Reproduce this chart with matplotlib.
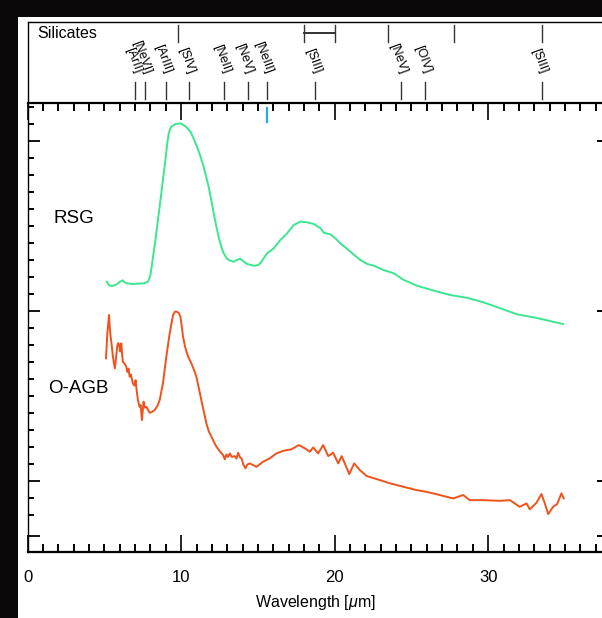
import numpy as np
import matplotlib
matplotlib.use("Agg")
import matplotlib.pyplot as plt
from matplotlib.patches import Rectangle
from matplotlib.ticker import MultipleLocator, FixedLocator

plt.rcParams['font.family'] = ['Liberation Sans', 'DejaVu Sans']
plt.rcParams['mathtext.fontset'] = 'custom'
plt.rcParams['mathtext.it'] = 'Liberation Sans:italic'
plt.rcParams['mathtext.rm'] = 'Liberation Sans'

# RSG spectrum: (wavelength in micron, offset flux)
rsg = np.array([
    (5.15, 1.171), (5.3, 1.150), (5.5, 1.145), (5.8, 1.155), (6.0, 1.170),
    (6.19, 1.179), (6.3, 1.168), (6.45, 1.161), (6.9, 1.157), (7.2, 1.160),
    (7.58, 1.161), (7.84, 1.171), (8.0, 1.210), (8.32, 1.416), (8.65, 1.651),
    (8.97, 1.886), (9.08, 1.975), (9.19, 2.044), (9.34, 2.082), (9.62, 2.098),
    (9.95, 2.102), (10.27, 2.086), (10.6, 2.053), (10.8, 2.015), (11.03, 1.965),
    (11.25, 1.910), (11.46, 1.847), (11.62, 1.790), (11.79, 1.729),
    (11.95, 1.655), (12.12, 1.573), (12.28, 1.500), (12.44, 1.435),
    (12.6, 1.380), (12.77, 1.338), (12.95, 1.310), (13.1, 1.298),
    (13.42, 1.288), (13.65, 1.300), (13.85, 1.306), (14.05, 1.290),
    (14.29, 1.275), (14.72, 1.265), (15.0, 1.268), (15.16, 1.279),
    (15.35, 1.305), (15.6, 1.338), (16.03, 1.367), (16.46, 1.416),
    (16.9, 1.455), (17.33, 1.504), (17.77, 1.524), (18.2, 1.520),
    (18.64, 1.510), (19.07, 1.485), (19.29, 1.459), (19.72, 1.449),
    (20.05, 1.425), (20.37, 1.396), (20.7, 1.372), (21.03, 1.347),
    (21.35, 1.322), (21.68, 1.298), (22.11, 1.275), (22.55, 1.265),
    (23.2, 1.239), (23.85, 1.220), (24.5, 1.181), (25.37, 1.147),
    (26.46, 1.118), (27.54, 1.092), (28.63, 1.076), (29.71, 1.049),
    (30.8, 1.014), (31.88, 0.979), (32.97, 0.961), (34.05, 0.939),
    (34.87, 0.922),
])
rsg_wl, rsg_flux = rsg[:, 0], rsg[:, 1]

# O-rich AGB spectrum
agb = np.array([
    (5.1, 0.720), (5.19, 0.867), (5.3, 0.975), (5.35, 0.900), (5.4, 0.847),
    (5.47, 0.800), (5.53, 0.749), (5.6, 0.700), (5.68, 0.661), (5.75, 0.720),
    (5.83, 0.788), (5.9, 0.810), (5.96, 0.798), (6.02, 0.760), (6.1, 0.808),
    (6.15, 0.745), (6.2, 0.700), (6.3, 0.690), (6.42, 0.671), (6.5, 0.640),
    (6.57, 0.660), (6.64, 0.612), (6.72, 0.625), (6.85, 0.573), (6.95, 0.560),
    (7.03, 0.592), (7.1, 0.530), (7.18, 0.475), (7.29, 0.435), (7.36, 0.445),
    (7.44, 0.357), (7.55, 0.465), (7.62, 0.430), (7.73, 0.435), (7.94, 0.400),
    (8.1, 0.405), (8.27, 0.416), (8.45, 0.440), (8.6, 0.475), (8.81, 0.573),
    (9.03, 0.729), (9.25, 0.867), (9.47, 0.975), (9.6, 0.995), (9.73, 0.994),
    (9.85, 0.985), (9.95, 0.965), (10.05, 0.900), (10.12, 0.847),
    (10.25, 0.790), (10.38, 0.749), (10.5, 0.720), (10.66, 0.691),
    (10.82, 0.655), (10.99, 0.612), (11.15, 0.545), (11.31, 0.475),
    (11.48, 0.405), (11.64, 0.338), (11.8, 0.290), (11.97, 0.259),
    (12.15, 0.225), (12.3, 0.200), (12.5, 0.175), (12.73, 0.151),
    (12.84, 0.126), (12.95, 0.155), (13.05, 0.140), (13.17, 0.161),
    (13.3, 0.140), (13.49, 0.145), (13.6, 0.130), (13.71, 0.165),
    (13.82, 0.140), (13.93, 0.132), (14.05, 0.095), (14.19, 0.073),
    (14.3, 0.095), (14.47, 0.102), (14.9, 0.082), (15.34, 0.112),
    (15.77, 0.132), (16.21, 0.161), (16.64, 0.176), (17.18, 0.185),
    (17.66, 0.210), (18.05, 0.191), (18.38, 0.171), (18.6, 0.196),
    (18.92, 0.161), (19.25, 0.210), (19.58, 0.145), (19.9, 0.165),
    (20.23, 0.102), (20.45, 0.145), (20.66, 0.102), (20.95, 0.039),
    (21.27, 0.102), (21.64, 0.063), (22.08, 0.028), (22.73, 0.010),
    (23.6, -0.015), (24.46, -0.035), (25.33, -0.055), (25.98, -0.065),
    (26.85, -0.084), (27.72, -0.104), (28.37, -0.084), (28.8, -0.114),
    (29.67, -0.114), (30.76, -0.118), (31.41, -0.114), (32.06, -0.153),
    (32.5, -0.133), (32.71, -0.168), (33.15, -0.129), (33.47, -0.078),
    (33.69, -0.133), (33.91, -0.196), (34.23, -0.153), (34.49, -0.137),
    (34.77, -0.074), (34.92, -0.104),
])
agb_wl, agb_flux = agb[:, 0], agb[:, 1]

# emission lines and silicate features for the top panel
line_names = ['[ArII]', '[NeVI]', '[ArIII]', '[SIV]', '[NeII]', '[NeV]',
              '[NeIII]', '[SIII]', '[NeV]', '[OIV]', '[SIII]']
line_wl = [6.99, 7.65, 8.99, 10.51, 12.81, 14.32, 15.56, 18.71, 24.32,
           25.89, 33.48]
silicate_wl = [9.8, 23.5, 27.8, 33.5]
silicate_band = (18.0, 20.0)

green = '#3ce68e'
orange = '#f0521c'
cyan = '#2aaae2'

W, H = 602, 618
fig = plt.figure(figsize=(W / 100, H / 100), dpi=100, facecolor='#0c0709')
fig.add_artist(Rectangle((18 / W, 0), 1, (H - 17) / H, transform=fig.transFigure,
                         facecolor='white', edgecolor='none', zorder=0))

x0, x1 = 27.7, 603.3
yb, yt, ytop = 552, 103.3, 21.7
ax = fig.add_axes([x0 / W, (H - yb) / H, (x1 - x0) / W, (yb - yt) / H])
ax_top = fig.add_axes([x0 / W, (H - yt) / H, (x1 - x0) / W, (yt - ytop) / H])

xmax = 37.5
ax.plot(rsg_wl, rsg_flux, color=green, lw=1.4)
ax.plot(agb_wl, agb_flux, color=orange, lw=1.4)
ax.plot([15.57, 15.57], [2.11, 2.19], color=cyan, lw=1.6)

ax.text(1.67, 1.545, 'RSG', fontsize=13.5, ha='left', va='center')
ax.text(1.30, 0.542, 'O-AGB', fontsize=13.5, ha='left', va='center')

ax.set_xlim(0, xmax)
ax.set_ylim(-0.419, 2.22)
ax.set_xticks([0, 10, 20, 30])
ax.xaxis.set_minor_locator(MultipleLocator(1))
ax.tick_params(axis='x', which='both', direction='in', top=True, bottom=True,
               labelsize=12, pad=13)
ax.tick_params(axis='x', which='major', length=12, width=1.2)
ax.tick_params(axis='x', which='minor', length=5.8, width=1.4)

ax.set_yticks([-0.325, 0, 1, 2])
ax.yaxis.set_minor_locator(FixedLocator(np.round(np.arange(-0.2, 2.25, 0.1), 2)))
ax.tick_params(axis='y', which='both', direction='in', labelleft=False)
ax.tick_params(axis='y', which='major', length=8.4, width=1.3)
ax.tick_params(axis='y', which='minor', length=4.1, width=1.4)

ax_r = ax.twinx()
ax_r.set_ylim(ax.get_ylim())
ax_r.set_yticks([-0.325, 0, 1, 2])
ax_r.tick_params(axis='y', direction='in', length=4, width=1.4, labelright=False)
for s in ax_r.spines.values():
    s.set_visible(False)

ax.spines['left'].set_linewidth(1.0)
ax.spines['bottom'].set_linewidth(1.6)
ax.spines['top'].set_linewidth(1.6)
ax.spines['right'].set_linewidth(1.0)

ax.set_xlabel(r'Wavelength [$\mu$m]', fontsize=11.5, labelpad=6)

# top panel with line identifications
ax_top.set_xlim(0, xmax)
ax_top.set_ylim(0, 1)
ax_top.set_xticks([])
ax_top.set_yticks([])
ax_top.patch.set_alpha(0)
ax_top.spines['bottom'].set_visible(False)
for s in ['top', 'left', 'right']:
    ax_top.spines[s].set_linewidth(1.0)

ax_top.text(0.016, 0.86, 'Silicates', transform=ax_top.transAxes,
            fontsize=11.5, ha='left', va='center')
for wl in silicate_wl:
    ax_top.plot([wl, wl], [0.748, 0.96], color='#333333', lw=1.0)
ax_top.plot(silicate_band, [0.858, 0.858], color='#222222', lw=1.3)
for wl in silicate_band:
    ax_top.plot([wl, wl], [0.748, 0.96], color='#333333', lw=1.0)

for name, wl in zip(line_names, line_wl):
    ax_top.plot([wl, wl], [0.05, 0.267], color='#333333', lw=1.0)
    ax_top.text(wl + 0.15, 0.37, name, fontsize=9, rotation=-70,
                rotation_mode='anchor', ha='right', va='center')

fig.savefig('out.png', dpi=100, facecolor=fig.get_facecolor())
